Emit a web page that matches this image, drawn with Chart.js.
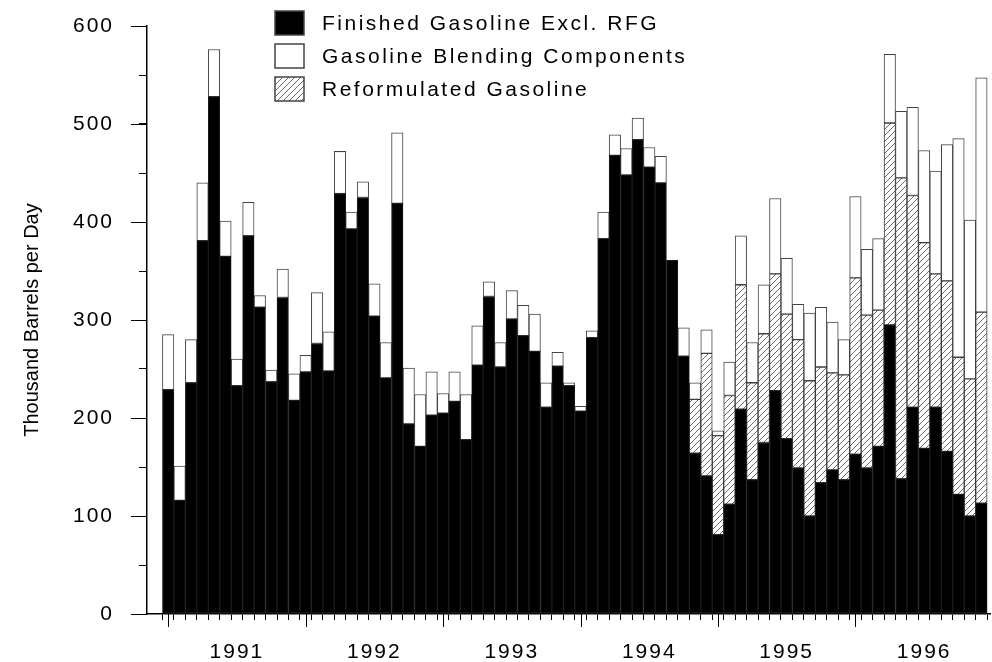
<!DOCTYPE html>
<html>
<head>
<meta charset="utf-8">
<script src="https://cdn.jsdelivr.net/npm/chart.js@4.4.1/dist/chart.umd.min.js"></script>
<style>
html,body{margin:0;padding:0;background:#fff;}
#wrap{width:992px;height:662px;position:relative;}
canvas{display:block;}
</style>
</head>
<body>
<div id="wrap"><canvas id="c" width="992" height="662"></canvas></div>
<script>
// ---------- data (thousand barrels per day, monthly Jan 1991 - Dec 1996) ----------
const years = ['1991', '1992', '1993', '1994', '1995', '1996'];
const monthNames = ['Jan','Feb','Mar','Apr','May','Jun','Jul','Aug','Sep','Oct','Nov','Dec'];
const months = years.flatMap(y => monthNames.map(m => m + ' ' + y));

const finishedExclRFG = [
  229,116,236,381,528,365,233,386,313,237,323,218,
  247,276,248,429,393,425,304,241,419,194,171,203,
  205,217,178,254,324,252,301,284,268,211,253,233,
  207,282,383,468,448,484,456,440,361,263,164,141,
  81,112,209,137,175,228,179,149,100,134,147,137,
  163,149,171,295,138,211,169,211,166,122,100,113
];
const reformulatedGasoline = [
  null,null,null,null,null,null,null,null,null,null,null,null,
  null,null,null,null,null,null,null,null,null,null,null,null,
  null,null,null,null,null,null,null,null,null,null,null,null,
  null,null,null,null,null,null,null,null,null,null,55,125,
  101,111,127,99,111,119,127,131,138,118,99,107,
  180,156,139,206,307,216,210,136,174,140,140,195
];
const blendingComponents = [
  56,35,44,59,48,36,27,34,12,12,29,27,
  17,52,40,43,17,16,33,36,72,57,53,44,
  20,30,46,40,15,25,29,31,38,25,14,3,
  5,7,27,21,27,22,20,27,null,29,17,24,
  5,34,50,41,50,77,57,36,69,61,52,36,
  83,67,73,70,68,90,94,105,139,223,162,239
];
const yTickLabels = [0, 100, 200, 300, 400, 500, 600];
const yTitle = 'Thousand Barrels per Day';

// ---------- chart ----------
const canvas = document.getElementById('c');
const ctx = canvas.getContext('2d');
const FONT = '"Liberation Sans", Arial, Helvetica, sans-serif';

function makeHatch() {
  const c = document.createElement('canvas');
  c.width = 6; c.height = 6;
  const g = c.getContext('2d');
  g.fillStyle = '#fff';
  g.fillRect(0, 0, 6, 6);
  g.strokeStyle = '#6a6a6a';
  g.lineWidth = 1;
  g.beginPath();
  g.moveTo(0, 6); g.lineTo(6, 0);
  g.moveTo(-1, 1); g.lineTo(1, -1);
  g.moveTo(5, 7); g.lineTo(7, 5);
  g.stroke();
  return ctx.createPattern(c, 'repeat');
}
const hatch = makeHatch();

const toXY = arr => arr.map((v, i) => ({ x: i, y: v }));

const legendOrder = [0, 2, 1];

const decor = {
  id: 'decor',
  beforeDraw(chart) {
    chart.ctx.letterSpacing = '2px';
  },
  afterDraw(chart) {
    const c = chart.ctx;
    const xs = chart.scales.x, ys = chart.scales.y;
    c.save();
    c.letterSpacing = '0px';
    // longer major ticks
    c.strokeStyle = '#000';
    c.lineWidth = 1;
    c.beginPath();
    years.forEach((y, k) => {
      const px = Math.round(xs.getPixelForValue(k * 12)) + 0.5;
      c.moveTo(px, xs.top);
      c.lineTo(px, xs.top + 13);
    });
    yTickLabels.forEach(v => {
      const py = Math.round(ys.getPixelForValue(v)) + 0.5;
      c.moveTo(ys.right, py);
      c.lineTo(ys.right - 16, py);
    });
    c.stroke();

    // y-axis title
    c.save();
    c.translate(32, (chart.chartArea.top + chart.chartArea.bottom) / 2);
    c.rotate(-Math.PI / 2);
    c.fillStyle = '#000';
    c.font = '20px ' + FONT;
    c.textAlign = 'center';
    c.textBaseline = 'middle';
    c.fillText(yTitle, 0, 0);
    c.restore();

    // legend
    const bx = 275, by = 11, bw = 29, bh = 24, gap = 33;
    legendOrder.forEach((di, k) => {
      const ds = chart.data.datasets[di];
      const y0 = by + k * gap;
      c.fillStyle = ds.backgroundColor;
      c.fillRect(bx, y0, bw, bh);
      c.strokeStyle = '#444';
      c.lineWidth = 1.5;
      c.strokeRect(bx, y0, bw, bh);
      c.fillStyle = '#000';
      c.font = '21px ' + FONT;
      c.letterSpacing = '2.5px';
      c.textAlign = 'left';
      c.textBaseline = 'middle';
      c.fillText(ds.label, 322, y0 + bh / 2 + 1);
    });
    c.restore();
  }
};

new Chart(ctx, {
  type: 'bar',
  data: {
    datasets: [
      { label: 'Finished Gasoline Excl. RFG', data: toXY(finishedExclRFG),
        backgroundColor: '#000', borderColor: '#1c1c1c', borderWidth: 1, borderSkipped: false },
      { label: 'Reformulated Gasoline', data: toXY(reformulatedGasoline),
        backgroundColor: hatch, borderColor: '#3a3a3a', borderWidth: 1, borderSkipped: false },
      { label: 'Gasoline Blending Components', data: toXY(blendingComponents),
        backgroundColor: '#fff', borderColor: '#444', borderWidth: 1, borderSkipped: false }
    ]
  },
  options: {
    responsive: false,
    animation: false,
    devicePixelRatio: 1,
    layout: { padding: { top: 26, right: 2, left: 0, bottom: 0 } },
    plugins: { legend: { display: false }, tooltip: { enabled: false } },
    datasets: { bar: { barPercentage: 1, categoryPercentage: 1 } },
    scales: {
      x: {
        type: 'linear',
        stacked: true,
        offset: false,
        min: -1.85,
        max: 71.75,
        afterBuildTicks: s => { s.ticks = months.map((m, i) => ({ value: i })); },
        afterFit: s => { s.height = 48; s.paddingLeft = 0; s.paddingRight = 0; },
        grid: { drawOnChartArea: false, tickLength: 6, color: '#000', tickWidth: 1 },
        border: { color: '#000', width: 1.5 },
        ticks: {
          autoSkip: false, maxRotation: 0, minRotation: 0, padding: 20, color: '#000',
          font: { family: FONT, size: 21 },
          callback: v => (v % 12 === 6 ? years[Math.floor(v / 12)] : '')
        }
      },
      y: {
        stacked: true,
        min: 0,
        max: 600,
        afterFit: s => { s.width = 147; s.paddingTop = 0; s.paddingBottom = 0; },
        grid: { drawOnChartArea: false, tickLength: 8, color: '#000', tickWidth: 1 },
        border: { color: '#000', width: 1.5 },
        ticks: {
          stepSize: 50, padding: 25, color: '#000',
          font: { family: FONT, size: 21 },
          callback: v => (yTickLabels.includes(v) ? String(v) : '')
        }
      }
    }
  },
  plugins: [decor]
});
</script>
</body>
</html>
